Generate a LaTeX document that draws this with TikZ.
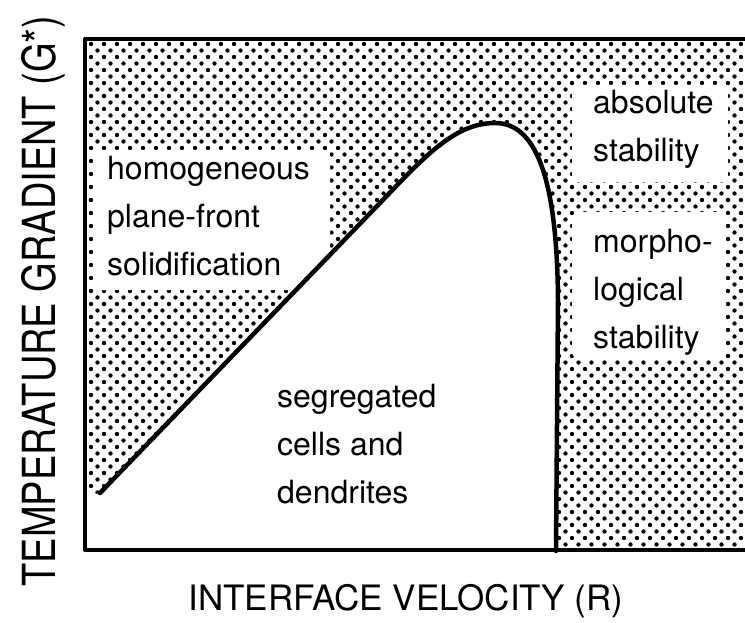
\documentclass[tikz,border=0pt]{standalone}
\usepackage{fontspec}
\setmainfont{TeX Gyre Heros}
\usepackage{graphicx}
\usepackage{tikz}

\begin{document}
\begin{tikzpicture}[x=1pt, y=-1pt,
    fieldtext/.style={anchor=north west, inner sep=0pt, align=left, font=\fontsize{32}{48}\selectfont},
    blank/.style={fill=white, rounded corners=6pt}]
    \useasboundingbox (0,0) rectangle (745,623);

    % stipple screen of the shaded fields
    \foreach \i in {0,...,50}
        \foreach \j in {0,...,38} {
            \fill (91+13*\i, 44+13*\j) circle [radius=2.2];
            \fill (97.5+13*\i, 50.5+13*\j) circle [radius=2.2];
        }

    % region below the limit curve
    \fill[white] (85,551) -- (85,497) -- (100,493) -- (380,203)
        .. controls (425,156) and (455,123) .. (495,123)
        .. controls (535,123) and (557,175) .. (558,300) -- (556,551) -- cycle;

    % white fields behind the labels
    \fill[blank] (93,150) rectangle (330,290);
    \fill[blank] (572,85) rectangle (728,182);
    \fill[blank] (572,212) rectangle (725,358);

    % limit curve
    \draw[line width=4.5pt, line cap=round] (100,493) -- (380,203)
        .. controls (425,156) and (455,123) .. (495,123)
        .. controls (535,123) and (557,175) .. (558,300) -- (556,551);

    % frame
    \draw[line width=4pt, line join=round] (745,39) -- (85,39) -- (85,550) -- (745,550);

    \node[fieldtext] (hom) at (107,156) {homogeneous\\plane-front\\solidification};
    \node[fieldtext] (abs) at (593,90) {absolute\\stability};
    \node[fieldtext] (mor) at (593,229) {morpho-\\logical\\stability};
    \node[fieldtext] (seg) at (277,384) {segregated\\cells and\\dendrites};

    % axis titles
    \node[anchor=base, font=\fontsize{35}{42}\selectfont] (xlab) at (406,610) {INTERFACE VELOCITY (R)};
    \node[anchor=base, rotate=90, font=\fontsize{38}{46}\selectfont] (ylab) at (55,301) {\scalebox{1}[1.2]{TEMPERATURE GRADIENT (G*)}};
\end{tikzpicture}
\end{document}
